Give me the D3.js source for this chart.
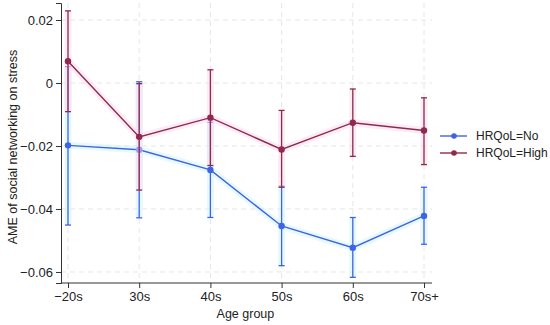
<!DOCTYPE html>
<html>
<head>
<meta charset="utf-8">
<script src="https://cdn.jsdelivr.net/npm/d3@7"></script>
<style>
  body { margin: 0; background: #fff; }
  text { font-family: "Liberation Sans", Arial, sans-serif; fill: #222; }
</style>
</head>
<body>
<div id="chart"></div>
<script>
// --- AME by age group ---
const ageGroups = ["\u221220s", "30s", "40s", "50s", "60s", "70s+"];
const yTicks = [0.02, 0, -0.02, -0.04, -0.06];

const noEst = [-0.0198, -0.0212, -0.0276, -0.0454, -0.0523, -0.0422];
const noLo = [-0.0451, -0.0428, -0.0427, -0.0580, -0.0617, -0.0512];
const noHi = [0.0052, 0.0004, -0.0125, -0.0328, -0.0427, -0.0331];

const highEst = [0.0069, -0.0171, -0.0110, -0.0211, -0.0126, -0.0151];
const highLo = [-0.0091, -0.0340, -0.0262, -0.0331, -0.0233, -0.0259];
const highHi = [0.0229, -0.0002, 0.0042, -0.0087, -0.0019, -0.0047];

const seriesNames = ["HRQoL=No", "HRQoL=High"];
const colors = ["#4063e6", "#8e2a4f"];
const glows = ["#cdf5fb", "#fcd8ec"];

const margin = { top: 3, right: 118, bottom: 42, left: 61 },
    width = 550 - margin.left - margin.right,
    height = 325 - margin.top - margin.bottom;

const svg = d3.select("#chart")
    .append("svg")
    .attr("width", 550)
    .attr("height", 325)
    .append("g")
    .attr("transform", `translate(${margin.left},${margin.top})`);

const x = d3.scalePoint().domain(ageGroups).range([7, 363]);
const y = d3.scaleLinear().domain([-0.0635, 0.0254]).range([height, 0]);

// grid
svg.append("g").selectAll("line")
    .data(yTicks).enter().append("line")
    .attr("x1", 0).attr("x2", width)
    .attr("y1", d => y(d)).attr("y2", d => y(d))
    .attr("stroke", "#e6e6e6").attr("stroke-dasharray", "5,4");
svg.append("g").selectAll("line")
    .data(ageGroups).enter().append("line")
    .attr("y1", 0).attr("y2", height)
    .attr("x1", d => x(d)).attr("x2", d => x(d))
    .attr("stroke", "#e6e6e6").attr("stroke-dasharray", "5,4");

// axes
const fmt = d => d === 0 ? "0" : d3.format(".2f")(d).replace("-", "\u2212");
const yAxis = svg.append("g")
    .call(d3.axisLeft(y).tickValues(yTicks).tickFormat(fmt).tickSize(5).tickPadding(3));
const xAxis = svg.append("g")
    .attr("transform", `translate(0,${height})`)
    .call(d3.axisBottom(x).tickSize(5).tickPadding(4));
[xAxis, yAxis].forEach(a => {
    a.select(".domain").attr("stroke", "#333");
    a.selectAll(".tick line").attr("stroke", "#333");
    a.selectAll(".tick text").attr("font-size", 13).attr("fill", "#222")
        .style("font-family", "'Liberation Sans', Arial, sans-serif");
});
// keep x axis line full width
xAxis.select(".domain").attr("d", `M0,0H${width}`);

const series = [
    { est: noEst, lo: noLo, hi: noHi },
    { est: highEst, lo: highLo, hi: highHi }
];

series.forEach((s, i) => {
    const g = svg.append("g");
    const pts = ageGroups.map((a, j) => ({ a, est: s.est[j], lo: s.lo[j], hi: s.hi[j] }));
    const line = d3.line().x(d => x(d.a)).y(d => y(d.est));

    // faint halo
    g.append("path").datum(pts).attr("fill", "none")
        .attr("stroke", glows[i]).attr("stroke-width", 7).attr("opacity", 0.5)
        .attr("d", line);
    g.selectAll(".halo").data(pts).enter().append("line")
        .attr("x1", d => x(d.a)).attr("x2", d => x(d.a))
        .attr("y1", d => y(d.hi)).attr("y2", d => y(d.lo))
        .attr("stroke", glows[i]).attr("stroke-width", 7).attr("opacity", 0.5);

    // CI bars
    g.selectAll(".ci").data(pts).enter().append("line")
        .attr("x1", d => x(d.a)).attr("x2", d => x(d.a))
        .attr("y1", d => y(d.hi)).attr("y2", d => y(d.lo))
        .attr("stroke", colors[i]).attr("stroke-width", 1.3);
    ["hi", "lo"].forEach(k => {
        g.selectAll(".cap" + k).data(pts).enter().append("line")
            .attr("x1", d => x(d.a) - 3).attr("x2", d => x(d.a) + 3)
            .attr("y1", d => y(d[k])).attr("y2", d => y(d[k]))
            .attr("stroke", colors[i]).attr("stroke-width", 1.3);
    });

    g.append("path").datum(pts).attr("fill", "none")
        .attr("stroke", colors[i]).attr("stroke-width", 1.4)
        .attr("d", line);
    g.selectAll(".dot").data(pts).enter().append("circle")
        .attr("cx", d => x(d.a)).attr("cy", d => y(d.est))
        .attr("r", 3.2).attr("fill", colors[i]);
});

// legend
const legend = svg.append("g").attr("transform", `translate(${379},${133})`);
seriesNames.forEach((n, i) => {
    const row = legend.append("g").attr("transform", `translate(0,${i * 17})`);
    row.append("line").attr("x1", 0).attr("x2", 27).attr("y1", 0).attr("y2", 0)
        .attr("stroke", colors[i]).attr("stroke-width", 1.4);
    row.append("circle").attr("cx", 14).attr("cy", 0).attr("r", 2.8).attr("fill", colors[i]);
    row.append("text").attr("x", 36).attr("y", 0).attr("dy", "0.35em")
        .attr("font-size", 12).text(n);
});

// axis titles
svg.append("text")
    .attr("x", x("40s") + 35).attr("y", height + 35)
    .attr("text-anchor", "middle").attr("font-size", 12.5)
    .text("Age group");
svg.append("text")
    .attr("transform", `translate(${-44},${144}) rotate(-90)`)
    .attr("text-anchor", "middle").attr("font-size", 12.5)
    .text("AME of social networking on stress");
</script>
</body>
</html>
